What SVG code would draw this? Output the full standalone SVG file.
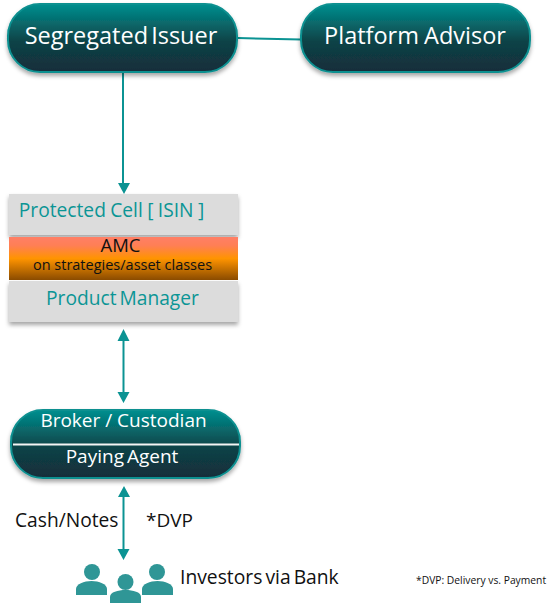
<svg xmlns="http://www.w3.org/2000/svg" width="557" height="603" viewBox="0 0 557 603">
<style>
text{font-family:"Open Sans","Noto Sans","Liberation Sans",sans-serif}
.w{fill:#fff;text-anchor:middle}
.t{fill:#0b9595;text-anchor:middle;font-size:19.200px;word-spacing:-2px}
.k{fill:#111}
.pill{fill:url(#pg);stroke:#0a9090;stroke-width:2}
.line{stroke:#0b9393;stroke-width:2;fill:none}
.tip{fill:#0b9393}
.person{fill:#2f9696}
</style>
<defs>
<linearGradient id="pg" x1="0" y1="0" x2="0" y2="1"><stop offset="0" stop-color="#008f8f"/><stop offset=".55" stop-color="#0f4347"/><stop offset="1" stop-color="#142d3a"/></linearGradient>
<linearGradient id="og" x1="0" y1="0" x2="0" y2="1"><stop offset="0" stop-color="#ff7f66"/><stop offset=".2" stop-color="#ff7f55"/><stop offset=".5" stop-color="#ff9400"/><stop offset="1" stop-color="#8a4b00"/></linearGradient>
<filter id="sh" x="-10%" y="-20%" width="120%" height="150%"><feDropShadow dx="0" dy="3" stdDeviation="2.2" flood-color="#000" flood-opacity=".35"/></filter>
</defs>
<g id="connectors">
<path class="line" d="M238 38L301 39.500"/>
<path class="line" d="M123 73V184"/>
<path class="tip" d="M118 183H130L124 194Z"/>
<path class="line" d="M123.500 336V394"/>
<path class="tip" d="M117.500 341L123.500 329L129.500 341ZM117.500 392H129.500L123.500 403Z"/>
<path class="line" d="M123.500 495V552"/>
<path class="tip" d="M118 497L124 486L130 497ZM117.500 549H129.500L123.500 560Z"/>
</g>
<g id="segregated-issuer"><rect class="pill" x="8" y="4" width="229" height="68" rx="32" filter="url(#sh)"/><text class="w" x="121" y="44" font-size="23.500" word-spacing="-3">Segregated Issuer</text></g>
<g id="platform-advisor"><rect class="pill" x="301" y="4" width="229" height="68" rx="32" filter="url(#sh)"/><text class="w" x="415" y="44" font-size="23.500" word-spacing="-1">Platform Advisor</text></g>
<g id="protected-cell"><rect x="9" y="194" width="229" height="41" fill="#dcdcdc" filter="url(#sh)"/><text class="t" x="111.500" y="217" word-spacing="0" style="word-spacing:-.6px">Protected Cell [ ISIN ]</text></g>
<g id="product-manager"><rect x="9" y="281" width="229" height="41" fill="#dcdcdc" filter="url(#sh)"/><text class="t" x="122.500" y="305">Product Manager</text></g>
<g id="amc"><rect x="9" y="237" width="229" height="43" fill="url(#og)"/><text class="k" x="120.500" y="252" font-size="18.500" text-anchor="middle">AMC</text><text class="k" x="122.500" y="270" font-size="14.500" text-anchor="middle">on strategies/asset classes</text></g>
<g id="broker-custodian"><rect class="pill" x="11" y="410" width="229" height="68" rx="32" filter="url(#sh)"/><path d="M13 444.500H239" stroke="#f4f4f4" stroke-width="2"/><text class="w" x="123.500" y="427" font-size="19">Broker / Custodian</text><text class="w" x="122" y="463" font-size="19" word-spacing="-2">Paying Agent</text></g>
<g id="investors"><g class="person"><circle cx="92" cy="572" r="8"/><path d="M76 595V589C76 584 84 581 91.500 581S107 584 107 589V595Z"/><circle cx="125.500" cy="582" r="8"/><path d="M110 603V597C110 592 118 590 125.500 590S141 592 141 597V603Z"/><circle cx="157" cy="572" r="8"/><path d="M142 595V589C142 584 150 581 157.500 581S173 584 173 589V595Z"/></g><text class="k" x="180" y="584" font-size="19.300" word-spacing="-2">Investors via Bank</text></g>
<text class="k" x="15" y="527" font-size="19.200">Cash/Notes</text>
<text class="k" x="146" y="527" font-size="19">*DVP</text>
<text class="k" x="416" y="584" font-size="10.300">*DVP: Delivery vs. Payment</text>
</svg>
